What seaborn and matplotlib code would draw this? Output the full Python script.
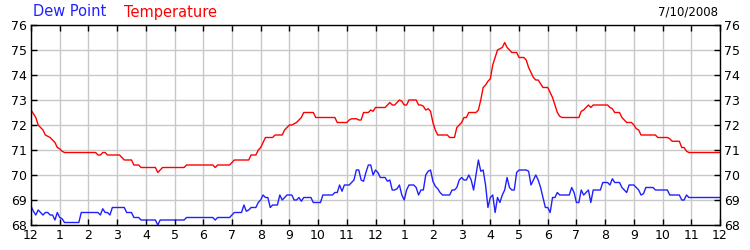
import matplotlib
matplotlib.use("Agg")
import matplotlib.pyplot as plt
import seaborn as sns
import numpy as np
import pandas as pd

# 5-minute readings, 00:00 .. 24:00
temperature = [
    72.6, 72.45, 72.3, 72.0, 71.9, 71.8, 71.6, 71.55, 71.5, 71.4, 71.3, 71.1,
    71.05, 70.95, 70.9, 70.9, 70.9, 70.9, 70.9, 70.9, 70.9, 70.9, 70.9, 70.9,
    70.9, 70.9, 70.9, 70.9, 70.8, 70.8, 70.9, 70.9, 70.8, 70.8, 70.8, 70.8,
    70.8, 70.8, 70.7, 70.6, 70.6, 70.6, 70.6, 70.4, 70.4, 70.4, 70.3, 70.3,
    70.3, 70.3, 70.3, 70.3, 70.3, 70.1, 70.2, 70.3, 70.3, 70.3, 70.3, 70.3,
    70.3, 70.3, 70.3, 70.3, 70.3, 70.4, 70.4, 70.4, 70.4, 70.4, 70.4, 70.4,
    70.4, 70.4, 70.4, 70.4, 70.4, 70.3, 70.4, 70.4, 70.4, 70.4, 70.4, 70.4,
    70.5, 70.6, 70.6, 70.6, 70.6, 70.6, 70.6, 70.6, 70.8, 70.8, 70.8, 71.0,
    71.1, 71.3, 71.5, 71.5, 71.5, 71.5, 71.6, 71.6, 71.6, 71.6, 71.8, 71.9,
    72.0, 72.0, 72.05, 72.1, 72.2, 72.3, 72.5, 72.5, 72.5, 72.5, 72.5, 72.3,
    72.3, 72.3, 72.3, 72.3, 72.3, 72.3, 72.3, 72.3, 72.1, 72.1, 72.1, 72.1,
    72.1, 72.2, 72.25, 72.25, 72.25, 72.2, 72.2, 72.5, 72.5, 72.5, 72.6, 72.55,
    72.7, 72.7, 72.7, 72.7, 72.7, 72.8, 72.9, 72.8, 72.8, 72.9, 73.0, 72.95,
    72.8, 72.8, 73.0, 73.0, 73.0, 73.0, 72.8, 72.8, 72.75, 72.6, 72.65, 72.55,
    72.1, 71.8, 71.6, 71.6, 71.6, 71.6, 71.6, 71.5, 71.5, 71.5, 71.9, 72.0,
    72.1, 72.3, 72.3, 72.5, 72.5, 72.5, 72.5, 72.6, 73.0, 73.5, 73.6, 73.75,
    73.85, 74.4, 74.7, 75.0, 75.05, 75.1, 75.3, 75.1, 75.0, 74.9, 74.9, 74.9,
    74.7, 74.7, 74.7, 74.6, 74.3, 74.1, 73.9, 73.8, 73.8, 73.65, 73.5, 73.5,
    73.5, 73.3, 73.1, 72.8, 72.5, 72.35, 72.3, 72.3, 72.3, 72.3, 72.3, 72.3,
    72.3, 72.3, 72.55, 72.6, 72.7, 72.8, 72.7, 72.8, 72.8, 72.8, 72.8, 72.8,
    72.8, 72.8, 72.7, 72.65, 72.5, 72.5, 72.5, 72.3, 72.2, 72.1, 72.1, 72.1,
    72.0, 71.85, 71.8, 71.6, 71.6, 71.6, 71.6, 71.6, 71.6, 71.6, 71.5, 71.5,
    71.5, 71.5, 71.5, 71.45, 71.35, 71.35, 71.35, 71.35, 71.1, 71.1, 70.95, 70.9,
    70.9, 70.9, 70.9, 70.9, 70.9, 70.9, 70.9, 70.9, 70.9, 70.9, 70.9, 70.9,
    70.9,
]

dew_point = [
    68.75, 68.55, 68.4, 68.6, 68.5, 68.4, 68.5, 68.5, 68.4, 68.4, 68.2, 68.5,
    68.3, 68.25, 68.1, 68.1, 68.1, 68.1, 68.1, 68.1, 68.1, 68.5, 68.5, 68.5,
    68.5, 68.5, 68.5, 68.5, 68.5, 68.4, 68.65, 68.5, 68.5, 68.4, 68.7, 68.7,
    68.7, 68.7, 68.7, 68.7, 68.5, 68.5, 68.5, 68.3, 68.3, 68.3, 68.2, 68.2,
    68.2, 68.2, 68.2, 68.2, 68.2, 68.0, 68.2, 68.2, 68.2, 68.2, 68.2, 68.2,
    68.2, 68.2, 68.2, 68.2, 68.2, 68.3, 68.3, 68.3, 68.3, 68.3, 68.3, 68.3,
    68.3, 68.3, 68.3, 68.3, 68.3, 68.2, 68.3, 68.3, 68.3, 68.3, 68.3, 68.3,
    68.4, 68.5, 68.5, 68.5, 68.5, 68.8, 68.55, 68.6, 68.7, 68.7, 68.7, 68.9,
    69.0, 69.2, 69.1, 69.1, 68.7, 68.8, 68.8, 68.8, 69.2, 69.0, 69.1, 69.2,
    69.2, 69.2, 69.0, 69.0, 69.1, 68.95, 69.1, 69.1, 69.1, 69.1, 68.9, 68.9,
    68.9, 68.9, 69.2, 69.2, 69.2, 69.2, 69.2, 69.3, 69.3, 69.6, 69.35, 69.6,
    69.6, 69.6, 69.7, 69.8, 70.2, 70.2, 69.8, 69.75, 70.1, 70.4, 70.4, 70.0,
    70.2, 70.1, 69.9, 69.9, 69.9, 69.75, 69.8, 69.4, 69.4, 69.45, 69.6, 69.2,
    69.0, 69.4, 69.6, 69.6, 69.6, 69.5, 69.2, 69.4, 69.4, 70.0, 70.15, 70.2,
    69.75, 69.55, 69.45, 69.3, 69.2, 69.2, 69.2, 69.2, 69.4, 69.4, 69.5, 69.8,
    69.9, 69.8, 69.8, 70.0, 69.8, 69.4, 70.0, 70.6, 70.15, 70.2, 69.6, 68.7,
    69.1, 69.2, 68.5, 69.1, 68.9, 69.2, 69.4, 69.9, 69.5, 69.4, 69.4, 70.1,
    70.2, 70.2, 70.2, 70.2, 70.15, 69.6, 69.8, 70.0, 69.8, 69.5, 69.1, 68.7,
    68.7, 68.5, 69.1, 69.1, 69.3, 69.2, 69.2, 69.2, 69.2, 69.2, 69.5, 69.3,
    68.9, 68.9, 69.4, 69.2, 69.3, 69.4, 68.9, 69.4, 69.4, 69.4, 69.4, 69.7,
    69.7, 69.7, 69.6, 69.85, 69.7, 69.7, 69.7, 69.5, 69.4, 69.3, 69.6, 69.6,
    69.6, 69.5, 69.4, 69.2, 69.25, 69.5, 69.5, 69.5, 69.5, 69.4, 69.4, 69.4,
    69.4, 69.4, 69.4, 69.2, 69.2, 69.2, 69.2, 69.2, 69.0, 69.0, 69.2, 69.1,
    69.1, 69.1, 69.1, 69.1, 69.1, 69.1, 69.1, 69.1, 69.1, 69.1, 69.1, 69.1,
    69.1,
]

hour_labels = ["12", "1", "2", "3", "4", "5", "6", "7", "8", "9", "10", "11",
               "12", "1", "2", "3", "4", "5", "6", "7", "8", "9", "10", "11", "12"]
y_ticks = [68, 69, 70, 71, 72, 73, 74, 75, 76]
series_names = ["Dew Point", "Temperature"]
date_label = "7/10/2008"

hours = np.arange(len(temperature)) * 5 / 60.0
df = pd.DataFrame({
    "hour": np.concatenate([hours, hours]),
    "value": dew_point + temperature,
    "series": ["Dew Point"] * len(dew_point) + ["Temperature"] * len(temperature),
})

sns.set_style("white")
plt.rcParams["font.family"] = ["DejaVu Sans"]

fig = plt.figure(figsize=(7.5, 2.5), dpi=100)
ax = fig.add_axes([31 / 750, 25 / 250, 689 / 750, 200 / 250])

colors = {"Dew Point": "#2020ff", "Temperature": "#ff0000"}
sns.lineplot(data=df, x="hour", y="value", hue="series", palette=colors,
             ax=ax, legend=False, linewidth=1.0, estimator=None)

ax.set_xlim(0, 24)
ax.set_ylim(68, 76)
ax.set_xticks(range(25))
ax.set_xticklabels(hour_labels)
ax.set_yticks(y_ticks)
ax.set_yticklabels([str(t) for t in y_ticks])
ax.grid(True, color="#c8c8c8", linewidth=1.0)
ax.set_axisbelow(True)
ax.set_xlabel("")
ax.set_ylabel("")

for side in ["left", "bottom", "right", "top"]:
    ax.spines[side].set_visible(True)
    ax.spines[side].set_color("black")
    ax.spines[side].set_linewidth(1.0)

ax.tick_params(axis="both", which="both", direction="in", length=4,
               width=1, color="black", labelsize=9, labelcolor="black", pad=3)
ax.tick_params(axis="y", left=True, right=True, labelleft=True, labelright=True)
ax.tick_params(axis="x", bottom=True, top=True, labeltop=False)

fig.text(33 / 750, 1 - 12 / 250, "Dew Point", color="#2020ff", fontsize=10.5,
         va="center", ha="left")
fig.text(124 / 750, 1 - 12 / 250, "Temperature", color="#ff0000", fontsize=10.5,
         va="center", ha="left")
fig.text(718 / 750, 1 - 12 / 250, date_label, color="black", fontsize=8.5,
         va="center", ha="right")

fig.savefig("out.png", dpi=100, facecolor="white")
